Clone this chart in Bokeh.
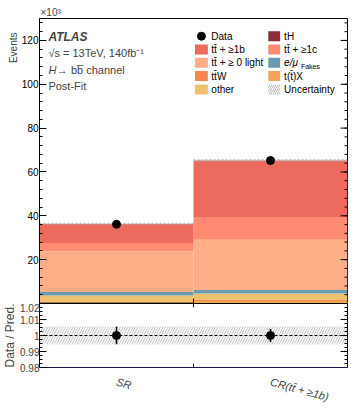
import numpy as np
from bokeh.plotting import figure
from bokeh.models import Range1d, FixedTicker, Label, ColumnDataSource, Title
from bokeh.layouts import column
from bokeh.embed import file_html
from bokeh.resources import INLINE
from bokeh.core.properties import value

# ---------------- data (events in units of 10^3) ----------------
categories = ["SR", "CR(tt\u0304 + \u22651b)"]
bin_edges = [0, 1, 2]
# stacked bottom-up
tH = [0.1, 0.1]
ttX = [0.3, 1.0]
ttW = [0.2, 0.6]
other = [3.1, 2.9]
fakes = [1.6, 1.6]
light = [18.5, 22.9]
ge1c = [3.8, 10.4]
ge1b = [8.7, 25.7]
data = [36.1, 65.2]
ratio = [1.0, 1.0]
ratio_err = [0.0055, 0.004]
rel_unc = [0.0057, 0.0057]

main_ticks = [0, 20, 40, 60, 80, 100, 120]
main_minor = list(range(0, 131, 4))
ratio_ticks = [0.98, 0.99, 1.0, 1.01, 1.02]
ratio_minor = list(np.round(np.arange(0.98, 1.0201, 0.0025), 4))

FONT = "Liberation Sans"
C_TH = "#8E2B3B"
C_1B = "#EC6A5E"
C_1C = "#FE8B72"
C_LIGHT = "#FDAE87"
C_FAKES = "#6B9BB0"
C_TTW = "#F4874A"
C_TTX = "#F2A65A"
C_OTHER = "#EDC170"

layers = [
    ("tH", tH, C_TH),
    ("t(t\u0304)X", ttX, C_TTX),
    ("tt\u0304W", ttW, C_TTW),
    ("other", other, C_OTHER),
    ("e/\u03bc", fakes, C_FAKES),
    ("tt\u0304 + \u2265 0 light", light, C_LIGHT),
    ("tt\u0304 + \u22651c", ge1c, C_1C),
    ("tt\u0304 + \u22651b", ge1b, C_1B),
]

left = np.array(bin_edges[:-1], dtype=float)
right = np.array(bin_edges[1:], dtype=float)
centers = (left + right) / 2

PX_X = 311 / 2.0      # px per x unit
PX_Y = 285 / 130.0    # px per y unit (main)
PX_R = 67 / 0.04      # px per ratio unit

def ximg(img_x):
    return (img_x - 36) / PX_X

def ymain(img_y):
    return (303 - img_y) / PX_Y

# ---------------- main panel ----------------
p = figure(width=352, height=303, x_range=Range1d(0, 2), y_range=Range1d(0, 130),
           output_backend="svg", toolbar_location=None,
           min_border_left=36, min_border_right=5, min_border_top=18, min_border_bottom=0)
p.grid.visible = False
p.outline_line_color = "black"
p.outline_line_width = 1
p.xaxis.visible = False

p.title = Title(text="\u00d710\u00b3", align="left", text_font=FONT, text_font_size="10px",
                text_font_style="normal", standoff=1, offset=1)
p.add_layout(Title(text="Events", align="right", text_font=FONT, text_font_size="10px",
                   text_font_style="normal", standoff=0, offset=14), "left")

cum = np.zeros(len(left))
for name, vals, col in layers:
    top = cum + np.array(vals)
    src = ColumnDataSource(dict(left=left, right=right, bottom=cum.copy(), top=top))
    p.quad(left="left", right="right", bottom="bottom", top="top", source=src,
           fill_color=col, line_color=None)
    cum = top
total = cum
unc_src = ColumnDataSource(dict(left=left, right=right,
                                bottom=total * (1 - np.array(rel_unc)),
                                top=total * (1 + np.array(rel_unc))))
p.quad(left="left", right="right", bottom="bottom", top="top", source=unc_src,
       fill_color=None, line_color="#aaaaaa", line_width=0.8, line_dash="2 2",
       hatch_pattern="right_diagonal_line", hatch_color="#888888", hatch_scale=5,
       hatch_weight=0.6)

p.scatter(centers, data, size=8, color="black")

p.yaxis.ticker = FixedTicker(ticks=main_ticks, minor_ticks=main_minor)
p.yaxis.major_label_overrides = {0: ""}
p.yaxis.major_tick_in = 7
p.yaxis.major_tick_out = 0
p.yaxis.minor_tick_in = 3
p.yaxis.minor_tick_out = 0
p.yaxis.major_label_standoff = 1
p.yaxis.major_label_text_font = FONT
p.yaxis.major_label_text_font_size = "10px"
p.yaxis.major_label_text_color = "black"
p.yaxis.axis_line_color = "black"

# mirrored ticks on the right edge and bin-edge tick at the bottom
p.segment(x0=[2 - 7 / PX_X] * len(main_ticks), y0=main_ticks, x1=[2] * len(main_ticks),
          y1=main_ticks, line_color="black", line_width=1)
p.segment(x0=[2 - 3 / PX_X] * len(main_minor), y0=main_minor, x1=[2] * len(main_minor),
          y1=main_minor, line_color="black", line_width=1)
p.segment(x0=bin_edges[1:-1], y0=[0] * (len(bin_edges) - 2), x1=bin_edges[1:-1],
          y1=[5 / PX_Y] * (len(bin_edges) - 2), line_color="black", line_width=1)

# ATLAS text block
tx = ximg(45)
p.add_layout(Label(x=tx, y=ymain(36), text="ATLAS", text_font=FONT, text_font_style="bold italic",
                   text_font_size="12px", text_baseline="middle"))
p.add_layout(Label(x=tx, y=ymain(52.5), text="\u221as = 13TeV, 140fb\u207b\u00b9", text_font=FONT,
                   text_font_size="11px", text_baseline="middle"))
p.add_layout(Label(x=tx, y=ymain(69), text="H", text_font=FONT, text_font_style="italic",
                   text_font_size="11px", text_baseline="middle"))
p.add_layout(Label(x=tx + 8.5 / PX_X, y=ymain(69), text="\u2192 bb\u0305 channel", text_font=FONT,
                   text_font_size="11px", text_baseline="middle"))
p.add_layout(Label(x=tx, y=ymain(85.5), text="Post-Fit", text_font=FONT,
                   text_font_size="11px", text_baseline="middle"))

# legend (row-major, two columns)
legend_rows = [
    [("Data", "marker", "black"), ("tH", "box", C_TH)],
    [("tt\u0304 + \u22651b", "box", C_1B), ("tt\u0304 + \u22651c", "box", C_1C)],
    [("tt\u0304 + \u2265 0 light", "box", C_LIGHT), ("e/\u03bc", "box", C_FAKES)],
    [("tt\u0304W", "box", C_TTW), ("t(t\u0304)X", "box", C_TTX)],
    [("other", "box", C_OTHER), ("Uncertainty", "hatch", "#888888")],
]
row_y = [35.7, 49.0, 62.3, 75.6, 88.9]
col_sw = [(193, 206), (267, 279)]
col_tx = [209.5, 283]
for r, row in enumerate(legend_rows):
    yc = ymain(row_y[r])
    for c, (lab, kind, col) in enumerate(row):
        x0, x1 = ximg(col_sw[c][0]), ximg(col_sw[c][1])
        if kind == "marker":
            p.scatter([(x0 + x1) / 2], [yc], size=8, color="black")
        elif kind == "box":
            p.quad(left=[x0], right=[x1], bottom=[yc - 5 / PX_Y], top=[yc + 5 / PX_Y],
                   fill_color=col, line_color=None)
        else:
            p.quad(left=[x0], right=[x1], bottom=[yc - 5 / PX_Y], top=[yc + 5 / PX_Y],
                   fill_color=None, line_color=None, hatch_pattern="right_diagonal_line",
                   hatch_color=col, hatch_scale=4, hatch_weight=0.6)
        style = "italic" if lab.startswith("e/") else "normal"
        p.text(x=[ximg(col_tx[c])], y=[yc], text=[lab], text_font=value(FONT),
               text_font_style=style, text_font_size="10px", text_baseline="middle",
               text_align="left", text_color="black")
        if lab.startswith("e/"):
            p.text(x=[ximg(col_tx[c] + 17)], y=[yc - 4 / PX_Y], text=["Fakes"], text_font=value(FONT),
                   text_font_size="7px", text_baseline="middle", text_align="left",
                   text_color="black")

# ---------------- ratio panel ----------------
p2 = figure(width=352, height=108, x_range=p.x_range, y_range=Range1d(0.98, 1.02),
            output_backend="svg", toolbar_location=None,
            min_border_left=36, min_border_right=5, min_border_top=0, min_border_bottom=41)
p2.grid.visible = False
p2.outline_line_color = "black"

band = ColumnDataSource(dict(left=left, right=right,
                             bottom=1 - np.array(rel_unc), top=1 + np.array(rel_unc)))
p2.quad(left="left", right="right", bottom="bottom", top="top", source=band,
        fill_color=None, line_color=None, hatch_pattern="right_diagonal_line",
        hatch_color="#999999", hatch_scale=5, hatch_weight=0.6)
p2.line([0, 2], [1, 1], line_color="black", line_dash="3 2", line_width=1)
p2.segment(x0=centers, y0=np.array(ratio) - np.array(ratio_err),
           x1=centers, y1=np.array(ratio) + np.array(ratio_err), line_color="black", line_width=1.5)
p2.scatter(centers, ratio, size=8, color="black")

# category labels on the x axis
p2.xaxis.ticker = FixedTicker(ticks=list(centers))
p2.xaxis.major_label_overrides = {float(c): cat for c, cat in zip(centers, categories)}
p2.xaxis.major_label_orientation = -15 * np.pi / 180
p2.xaxis.major_label_text_font = FONT
p2.xaxis.major_label_text_font_style = "italic"
p2.xaxis.major_label_text_font_size = "11px"
p2.xaxis.major_label_standoff = 8
p2.xaxis.major_tick_line_color = None
p2.xaxis.minor_tick_line_color = None
p2.xaxis.axis_line_color = "#1a1a4a"

# bin-edge ticks (top and bottom) and mirrored right ticks
ne = len(bin_edges) - 2
p2.segment(x0=bin_edges[1:-1], y0=[1.02] * ne, x1=bin_edges[1:-1], y1=[1.02 - 4 / PX_R] * ne,
           line_color="black", line_width=1)
p2.segment(x0=bin_edges[1:-1], y0=[0.98] * ne, x1=bin_edges[1:-1], y1=[0.98 + 4 / PX_R] * ne,
           line_color="black", line_width=1)
p2.segment(x0=[2 - 7 / PX_X] * len(ratio_ticks), y0=ratio_ticks, x1=[2] * len(ratio_ticks),
           y1=ratio_ticks, line_color="black", line_width=1)
p2.segment(x0=[2 - 3 / PX_X] * len(ratio_minor), y0=ratio_minor, x1=[2] * len(ratio_minor),
           y1=ratio_minor, line_color="black", line_width=1)

p2.yaxis.ticker = FixedTicker(ticks=ratio_ticks, minor_ticks=ratio_minor)
p2.yaxis.major_label_overrides = {1: "1"}
p2.yaxis.major_tick_in = 7
p2.yaxis.major_tick_out = 0
p2.yaxis.minor_tick_in = 3
p2.yaxis.minor_tick_out = 0
p2.yaxis.major_label_standoff = 0
p2.yaxis.major_label_text_font = FONT
p2.yaxis.major_label_text_font_size = "10px"
p2.yaxis.axis_line_color = "black"
p2.yaxis.axis_label = "Data / Pred."
p2.yaxis.axis_label_text_font = FONT
p2.yaxis.axis_label_text_font_style = "normal"
p2.yaxis.axis_label_text_font_size = "12px"
p2.yaxis.axis_label_standoff = 0

layout = column(p, p2, spacing=0)
open("out.html", "w").write(file_html(layout, INLINE))
